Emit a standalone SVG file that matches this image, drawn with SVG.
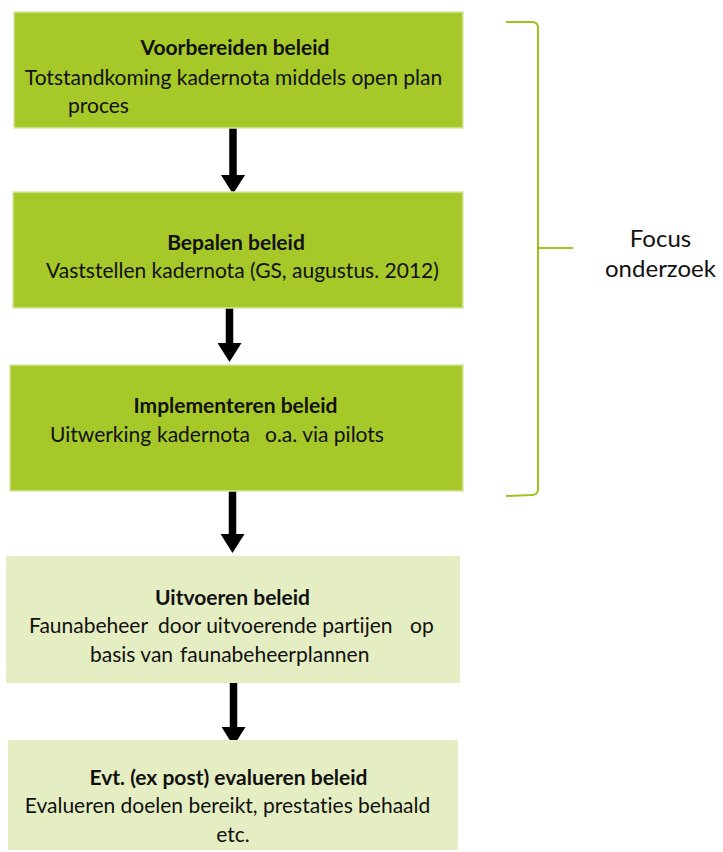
<svg xmlns="http://www.w3.org/2000/svg" width="723" height="852" viewBox="0 0 723 852">
<defs>
<style>
.dark{fill:#a6c828;stroke:#d6e8a2;stroke-width:1.5}
.light{fill:#e5eec2;stroke:none}
text{font-family:Lato,"Open Sans","Liberation Sans",sans-serif;font-size:21px;fill:#111;font-variant-ligatures:none}
.t{font-weight:bold}
.m{text-anchor:middle}
.f{font-size:24px}
.arr{stroke:#000;stroke-width:7.5;fill:none}
.br{stroke:#9cc41e;stroke-width:2;fill:none}
</style>
<marker id="ah" markerUnits="userSpaceOnUse" markerWidth="19" markerHeight="24" viewBox="0 0 19 24" refX="0" refY="12" orient="auto">
<path d="M0,0 L19,12 L0,24 z" fill="#000"/>
</marker>
</defs>
<rect width="723" height="852" fill="#fff"/>
<g id="connectors">
<line class="arr" x1="233" y1="128" x2="233" y2="175" marker-end="url(#ah)"/>
<line class="arr" x1="229.5" y1="308" x2="229.5" y2="343" marker-end="url(#ah)"/>
<line class="arr" x1="232.5" y1="491" x2="232.5" y2="534" marker-end="url(#ah)"/>
<line class="arr" x1="233.5" y1="683" x2="233.5" y2="727" marker-end="url(#ah)"/>
</g>
<g id="n1">
<rect class="dark" x="14" y="12" width="449" height="116"/>
<text class="t m" x="235" y="55">Voorbereiden beleid</text>
<text class="m" x="233.5" y="85">Totstandkoming kadernota middels open plan</text>
<text x="68" y="113">proces</text>
</g>
<g id="n2">
<rect class="dark" x="13" y="192" width="450" height="116"/>
<text class="t m" x="236" y="250">Bepalen beleid</text>
<text class="m" x="242.5" y="278">Vaststellen kadernota (GS, augustus. 2012)</text>
</g>
<g id="n3">
<rect class="dark" x="10" y="365" width="453" height="126"/>
<text class="t m" x="235.5" y="413">Implementeren beleid</text>
<text y="442"><tspan x="50">Uitwerking</tspan><tspan x="157">kadernota</tspan><tspan x="265">o.a. via pilots</tspan></text>
</g>
<g id="n4">
<rect class="light" x="6" y="556" width="454" height="127"/>
<text class="t m" x="232.5" y="605">Uitvoeren beleid</text>
<text y="633"><tspan x="29">Faunabeheer</tspan><tspan x="158">door uitvoerende partijen</tspan><tspan x="410">op</tspan></text>
<text y="662"><tspan x="90">basis van</tspan><tspan x="180">faunabeheerplannen</tspan></text>
</g>
<g id="n5">
<rect class="light" x="8" y="740" width="450" height="110"/>
<text class="t m" x="228.5" y="785">Evt. (ex post) evalueren beleid</text>
<text class="m" x="227.5" y="813">Evalueren doelen bereikt, prestaties behaald</text>
<text class="m" x="233" y="842">etc.</text>
</g>
<g id="focus">
<path class="br" d="M506,22 L532,22 Q538,22 538,28 L538,489 Q538,495 532,495 L506,496"/>
<line class="br" x1="538" y1="248" x2="573" y2="248"/>
<text class="m f" x="660.5" y="247">Focus</text>
<text class="m f" x="660.5" y="277">onderzoek</text>
</g>
</svg>
